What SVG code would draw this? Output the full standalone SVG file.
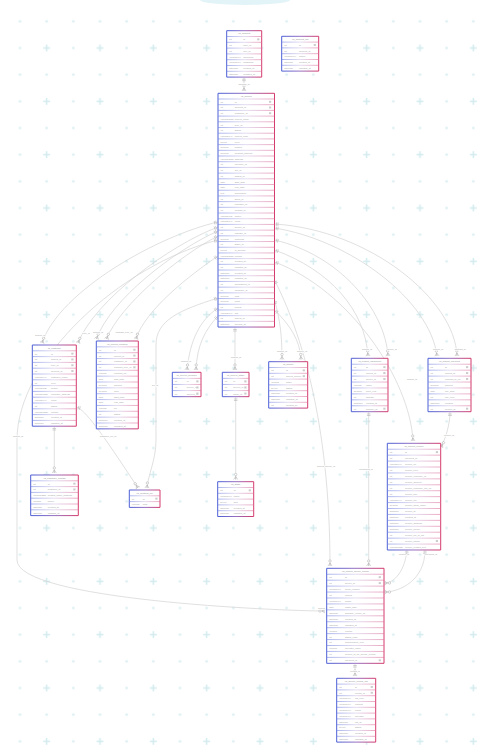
<svg xmlns="http://www.w3.org/2000/svg" width="490" height="754" viewBox="0 0 490 754">
<defs>
<linearGradient id="gb" x1="0" y1="0" x2="1" y2="0"><stop offset="0" stop-color="#4b5fd6"/><stop offset="0.5" stop-color="#946fc2"/><stop offset="1" stop-color="#d43a6b"/></linearGradient>
<linearGradient id="gs" x1="0" y1="0" x2="1" y2="0"><stop offset="0" stop-color="#7284e2"/><stop offset="0.5" stop-color="#d2c6e8"/><stop offset="1" stop-color="#e07098"/></linearGradient>
<pattern id="bg" x="33.333" y="34.667" width="53.333" height="53.333" patternUnits="userSpaceOnUse">
<path d="M13.33,9.83V16.83M9.83,13.33H16.83" stroke="#d3ebee" stroke-width="1.5"/>
<circle cx="40" cy="13.33" r="1.3" fill="#dbeff1"/><circle cx="13.33" cy="40" r="1.3" fill="#dbeff1"/><circle cx="40" cy="40" r="1.3" fill="#dbeff1"/>
</pattern>
<marker id="many" viewBox="-8 -3 9 6" refX="0" refY="0" markerWidth="9" markerHeight="6" orient="auto" markerUnits="userSpaceOnUse">
<path d="M-3,0L0,-2M-3,0L0,0M-3,0L0,2" stroke="#b5b5b5" stroke-width="0.6" fill="none"/>
<circle cx="-5" cy="0" r="1.2" fill="#fff" stroke="#b5b5b5" stroke-width="0.6"/>
</marker>
<marker id="one" viewBox="0 -3 6 6" refX="0" refY="0" markerWidth="6" markerHeight="6" orient="auto" markerUnits="userSpaceOnUse">
<path d="M2,-1.8V1.8M3.5,-1.8V1.8" stroke="#b5b5b5" stroke-width="0.6" fill="none"/>
</marker>
</defs>
<style>
.b{fill:#fff;stroke:url(#gb);stroke-width:1;vector-effect:non-scaling-stroke}
.s{fill:none;stroke:url(#gs);stroke-width:0.6;vector-effect:non-scaling-stroke}
text{font-family:"Liberation Sans",Arial,sans-serif;font-size:2.35px;fill:#a3a3a3}
.h{text-anchor:middle;fill:#8c8c8c}
.k{fill:#cbcbcb}
.cn path{fill:none;stroke:#d2d2d2;stroke-width:0.7;marker-start:url(#one);marker-end:url(#many)}
.lb{font-size:2.3px;fill:#a0a0a0;text-anchor:middle;stroke:#fff;stroke-width:1.2;paint-order:stroke}
</style>
<rect width="490" height="754" fill="#fff"/>
<rect width="490" height="754" fill="url(#bg)"/>
<ellipse cx="245" cy="0" rx="45" ry="5" fill="#e3f4f8"/>

<g class="cn" id="connectors">
<path d="M244,77.2V91"/>
<path d="M218,222C160,235 60,290 42,343"/>
<path d="M218,227C170,245 95,300 78,343"/>
<path d="M218,231C175,250 110,300 96.5,339"/>
<path d="M218,236C180,255 120,305 106.5,339"/>
<path d="M218,240C120,265 17,360 17,440L17,560C17,600 280,611 325,611"/>
<path d="M218,256C190,275 145,310 136,339"/>
<path d="M218,298C180,310 156,320 156,345L156,440C156,460 148,475 147,488"/>
<path d="M218,308C200,320 190,340 187,370"/>
<path d="M218,316C205,330 197,345 196,370"/>
<path d="M235,327.5V370"/>
<path d="M76.5,407C85,410 100,430 138,488"/>
<path d="M54.3,426.5V473"/>
<path d="M235.7,397V479.5"/>
<path d="M274.5,300C280,320 282,335 282,359.5"/>
<path d="M274.5,310C290,325 300,340 301,359.5"/>
<path d="M274.5,250C330,270 365,310 368,356"/>
<path d="M274.5,240C340,255 385,310 388,356"/>
<path d="M274.5,228C350,240 430,300 437,356"/>
<path d="M274.5,224C370,230 455,300 457,356"/>
<path d="M274.5,262C350,290 410,380 413,441"/>
<path d="M274.5,280C300,330 330,420 330,566"/>
<path d="M368.7,412V566"/>
<path d="M450,412C450,425 445,440 441,447"/>
<path d="M407,550C405,570 395,583 384.5,583"/>
<path d="M425,550C425,580 400,592 384.5,592"/>
<path d="M355,663.5V676"/>
</g>
<g id="labels">
<text class="lb" x="244" y="85">account_id</text>
<text class="lb" x="40" y="336">project_id</text>
<text class="lb" x="86" y="334">type_id</text>
<text class="lb" x="98" y="333">project_id</text>
<text class="lb" x="124" y="333">contract_type_id</text>
<text class="lb" x="18" y="437">project_id</text>
<text class="lb" x="155" y="386">file_id</text>
<text class="lb" x="186" y="362">project_id</text>
<text class="lb" x="236" y="358">project_id</text>
<text class="lb" x="108" y="437">customer_file_id</text>
<text class="lb" x="282" y="352">project_id</text>
<text class="lb" x="302" y="352">source_id</text>
<text class="lb" x="367" y="350">project_id</text>
<text class="lb" x="392" y="350">device_id</text>
<text class="lb" x="438" y="350">project_id</text>
<text class="lb" x="460" y="350">contract_id</text>
<text class="lb" x="412" y="380">project_id</text>
<text class="lb" x="326" y="467">project_device_id</text>
<text class="lb" x="366" y="470">equipment_id</text>
<text class="lb" x="449" y="436">invoice_id</text>
<text class="lb" x="404" y="555">invoice_id</text>
<text class="lb" x="431" y="555">payment_id</text>
<text class="lb" x="323" y="609">project_id</text>
<text class="lb" x="355" y="672">record_id</text>
</g>

<g id="t-account" transform="translate(226.7,30.7)">
<rect class="b" width="35" height="46.4"/>
<path class="s" d="M0,5.8h35M0,11.6h35M0,17.4h35M0,23.2h35M0,29h35M0,34.8h35M0,40.6h35"/>
<text class="h" x="17.5" y="3.8">vs_account</text>
<text x="2.5" y="9.6">int</text><text x="16.6" y="9.6">id</text><rect class="k" x="30.5" y="7.7" width="2.2" height="1.9"/>
<text x="2.5" y="15.4">int</text><text x="16.6" y="15.4">user_id</text>
<text x="2.5" y="21.2">int</text><text x="16.6" y="21.2">role_id</text>
<text x="2.5" y="27">varchar(64)</text><text x="16.6" y="27">username</text>
<text x="2.5" y="32.8">varchar(64)</text><text x="16.6" y="32.8">password</text>
<text x="2.5" y="38.6">datetime</text><text x="16.6" y="38.6">created_at</text>
<text x="2.5" y="44.4">datetime</text><text x="16.6" y="44.4">updated_at</text>
</g>

<g id="t-account-log" transform="translate(281.7,36.3)">
<rect class="b" width="37" height="34.8"/>
<path class="s" d="M0,5.8h37M0,11.6h37M0,17.4h37M0,23.2h37M0,29h37"/>
<text class="h" x="18.5" y="3.8">vs_account_log</text>
<text x="2.5" y="9.6">int</text><text x="17.3" y="9.6">id</text><rect class="k" x="32" y="7.7" width="2.2" height="1.9"/>
<text x="2.5" y="15.4">int</text><text x="17.3" y="15.4">account_id</text>
<text x="2.5" y="21.2">varchar(64)</text><text x="17.3" y="21.2">action</text>
<text x="2.5" y="27">datetime</text><text x="17.3" y="27">created_at</text>
<text x="2.5" y="32.8">datetime</text><text x="17.3" y="32.8">updated_at</text>
</g>

<g id="t-project" transform="translate(218,93.3) scale(1,0.983)">
<rect class="b" width="56.5" height="237.8"/>
<path class="s" d="M0,5.8h56.5M0,11.6h56.5M0,17.4h56.5M0,23.2h56.5M0,29h56.5M0,34.8h56.5M0,40.6h56.5M0,46.4h56.5M0,52.2h56.5M0,58h56.5M0,63.8h56.5M0,69.6h56.5M0,75.4h56.5M0,81.2h56.5M0,87h56.5M0,92.8h56.5M0,98.6h56.5M0,104.4h56.5M0,110.2h56.5M0,116h56.5M0,121.8h56.5M0,127.6h56.5M0,133.4h56.5M0,139.2h56.5M0,145h56.5M0,150.8h56.5M0,156.6h56.5M0,162.4h56.5M0,168.2h56.5M0,174h56.5M0,179.8h56.5M0,185.6h56.5M0,191.4h56.5M0,197.2h56.5M0,203h56.5M0,208.8h56.5M0,214.6h56.5M0,220.4h56.5M0,226.2h56.5M0,232h56.5"/>
<text class="h" x="28.25" y="3.8">vs_project</text>
<text x="2.5" y="9.6">int</text><text x="16.7" y="9.6">id</text><rect class="k" x="51" y="7.7" width="2.2" height="1.9"/>
<text x="2.5" y="15.4">int</text><text x="16.7" y="15.4">account_id</text><rect class="k" x="51" y="13.5" width="2.2" height="1.9"/>
<text x="2.5" y="21.2">int</text><text x="16.7" y="21.2">customer_id</text><rect class="k" x="51" y="19.3" width="2.2" height="1.9"/>
<text x="2.5" y="27">varchar(255)</text><text x="16.7" y="27">project_name</text>
<text x="2.5" y="32.8">int</text><text x="16.7" y="32.8">type_id</text>
<text x="2.5" y="38.6">int</text><text x="16.7" y="38.6">status</text>
<text x="2.5" y="44.4">varchar(64)</text><text x="16.7" y="44.4">project_code</text>
<text x="2.5" y="50.2">tinyint</text><text x="16.7" y="50.2">level</text>
<text x="2.5" y="56">decimal</text><text x="16.7" y="56">budget</text>
<text x="2.5" y="61.8">decimal</text><text x="16.7" y="61.8">contract_amount</text>
<text x="2.5" y="67.6">varchar(255)</text><text x="16.7" y="67.6">address</text>
<text x="2.5" y="73.4">int</text><text x="16.7" y="73.4">province_id</text>
<text x="2.5" y="79.2">int</text><text x="16.7" y="79.2">city_id</text>
<text x="2.5" y="85">int</text><text x="16.7" y="85">district_id</text>
<text x="2.5" y="90.8">date</text><text x="16.7" y="90.8">start_date</text>
<text x="2.5" y="96.6">date</text><text x="16.7" y="96.6">end_date</text>
<text x="2.5" y="102.4">text</text><text x="16.7" y="102.4">description</text>
<text x="2.5" y="108.2">int</text><text x="16.7" y="108.2">sales_id</text>
<text x="2.5" y="114">int</text><text x="16.7" y="114">manager_id</text>
<text x="2.5" y="119.8">int</text><text x="16.7" y="119.8">contact_id</text>
<text x="2.5" y="125.6">varchar(32)</text><text x="16.7" y="125.6">phone</text>
<text x="2.5" y="131.4">varchar(64)</text><text x="16.7" y="131.4">email</text>
<text x="2.5" y="137.2">int</text><text x="16.7" y="137.2">source_id</text>
<text x="2.5" y="143">int</text><text x="16.7" y="143">industry_id</text>
<text x="2.5" y="148.8">decimal</text><text x="16.7" y="148.8">progress</text>
<text x="2.5" y="154.6">int</text><text x="16.7" y="154.6">stage_id</text>
<text x="2.5" y="160.4">tinyint</text><text x="16.7" y="160.4">is_deleted</text>
<text x="2.5" y="166.2">varchar(255)</text><text x="16.7" y="166.2">remark</text>
<text x="2.5" y="172">int</text><text x="16.7" y="172">created_by</text>
<text x="2.5" y="177.8">int</text><text x="16.7" y="177.8">updated_by</text>
<text x="2.5" y="183.6">datetime</text><text x="16.7" y="183.6">created_at</text>
<text x="2.5" y="189.4">datetime</text><text x="16.7" y="189.4">updated_at</text>
<text x="2.5" y="195.2">int</text><text x="16.7" y="195.2">department_id</text>
<text x="2.5" y="201">int</text><text x="16.7" y="201">company_id</text>
<text x="2.5" y="206.8">decimal</text><text x="16.7" y="206.8">cost</text>
<text x="2.5" y="212.6">decimal</text><text x="16.7" y="212.6">profit</text>
<text x="2.5" y="218.4">int</text><text x="16.7" y="218.4">priority</text>
<text x="2.5" y="224.2">varchar(64)</text><text x="16.7" y="224.2">tag</text>
<text x="2.5" y="230">int</text><text x="16.7" y="230">parent_id</text>
<text x="2.5" y="235.8">datetime</text><text x="16.7" y="235.8">deleted_at</text>
</g>

<g id="t-customer" transform="translate(32.3,345)">
<rect class="b" width="44" height="81.2"/>
<path class="s" d="M0,5.8h44M0,11.6h44M0,17.4h44M0,23.2h44M0,29h44M0,34.8h44M0,40.6h44M0,46.4h44M0,52.2h44M0,58h44M0,63.8h44M0,69.6h44M0,75.4h44"/>
<text class="h" x="22" y="3.8">vs_customer</text>
<text x="2.5" y="9.6">int</text><text x="18.7" y="9.6">id</text><rect class="k" x="39" y="7.7" width="2.2" height="1.9"/>
<text x="2.5" y="15.4">int</text><text x="18.7" y="15.4">project_id</text><rect class="k" x="39" y="13.5" width="2.2" height="1.9"/>
<text x="2.5" y="21.2">int</text><text x="18.7" y="21.2">type_id</text><rect class="k" x="39" y="19.3" width="2.2" height="1.9"/>
<text x="2.5" y="27">int</text><text x="18.7" y="27">account_id</text><rect class="k" x="39" y="25.1" width="2.2" height="1.9"/>
<text x="2.5" y="32.8">varchar(64)</text><text x="18.7" y="32.8">customer_name</text>
<text x="2.5" y="38.6">int</text><text x="18.7" y="38.6">level</text>
<text x="2.5" y="44.4">varchar(32)</text><text x="18.7" y="44.4">mobile</text>
<text x="2.5" y="50.2">varchar(255)</text><text x="18.7" y="50.2">company_address</text>
<text x="2.5" y="56">varchar(64)</text><text x="18.7" y="56">email</text>
<text x="2.5" y="61.8">int</text><text x="18.7" y="61.8">status</text>
<text x="2.5" y="67.6">varchar(255)</text><text x="18.7" y="67.6">remark</text>
<text x="2.5" y="73.4">datetime</text><text x="18.7" y="73.4">created_at</text>
<text x="2.5" y="79.2">datetime</text><text x="18.7" y="79.2">updated_at</text>
</g>

<g id="t-project-contract" transform="translate(96.3,341) scale(1,1.01)">
<rect class="b" width="42" height="87"/>
<path class="s" d="M0,5.8h42M0,11.6h42M0,17.4h42M0,23.2h42M0,29h42M0,34.8h42M0,40.6h42M0,46.4h42M0,52.2h42M0,58h42M0,63.8h42M0,69.6h42M0,75.4h42M0,81.2h42"/>
<text class="h" x="21" y="3.8">vs_project_contract</text>
<text x="2.5" y="9.6">int</text><text x="17.7" y="9.6">id</text><rect class="k" x="37" y="7.7" width="2.2" height="1.9"/>
<text x="2.5" y="15.4">int</text><text x="17.7" y="15.4">project_id</text><rect class="k" x="37" y="13.5" width="2.2" height="1.9"/>
<text x="2.5" y="21.2">int</text><text x="17.7" y="21.2">customer_id</text><rect class="k" x="37" y="19.3" width="2.2" height="1.9"/>
<text x="2.5" y="27">int</text><text x="17.7" y="27">contract_type_id</text><rect class="k" x="37" y="25.1" width="2.2" height="1.9"/>
<text x="2.5" y="32.8">varchar</text><text x="17.7" y="32.8">contract_no</text>
<text x="2.5" y="38.6">date</text><text x="17.7" y="38.6">sign_date</text>
<text x="2.5" y="44.4">decimal</text><text x="17.7" y="44.4">amount</text>
<text x="2.5" y="50.2">decimal</text><text x="17.7" y="50.2">paid</text>
<text x="2.5" y="56">date</text><text x="17.7" y="56">start_date</text>
<text x="2.5" y="61.8">date</text><text x="17.7" y="61.8">end_date</text>
<text x="2.5" y="67.6">varchar</text><text x="17.7" y="67.6">file</text>
<text x="2.5" y="73.4">int</text><text x="17.7" y="73.4">status</text>
<text x="2.5" y="79.2">datetime</text><text x="17.7" y="79.2">created_at</text>
<text x="2.5" y="85">datetime</text><text x="17.7" y="85">updated_at</text>
</g>

<g id="t-contract-file" transform="translate(129.3,490)">
<rect class="b" width="30.7" height="17.4"/>
<path class="s" d="M0,5.8h30.7M0,11.6h30.7"/>
<text class="h" x="15.35" y="3.8">vs_contract_file</text>
<text x="2.5" y="9.6">int</text><text x="13.5" y="9.6">id</text><rect class="k" x="26" y="7.7" width="2.2" height="1.9"/>
<text x="2.5" y="15.4">varchar</text><text x="13.5" y="15.4">path</text>
</g>

<g id="t-customer-contact" transform="translate(30.7,475)">
<rect class="b" width="47.6" height="40.6"/>
<path class="s" d="M0,5.8h47.6M0,11.6h47.6M0,17.4h47.6M0,23.2h47.6M0,29h47.6M0,34.8h47.6"/>
<text class="h" x="23.8" y="3.8">vs_customer_contact</text>
<text x="2.5" y="9.6">int</text><text x="17" y="9.6">id</text><rect class="k" x="42.6" y="7.7" width="2.2" height="1.9"/>
<text x="2.5" y="15.4">int</text><text x="17" y="15.4">customer_id</text><rect class="k" x="42.6" y="13.5" width="2.2" height="1.9"/>
<text x="2.5" y="21.2">varchar(255)</text><text x="17" y="21.2">contact_name_address</text>
<text x="2.5" y="27">varchar</text><text x="17" y="27">phone</text>
<text x="2.5" y="32.8">datetime</text><text x="17" y="32.8">created_at</text>
<text x="2.5" y="38.6">datetime</text><text x="17" y="38.6">updated_at</text>
</g>

<g id="t-project-member" transform="translate(172.3,372.3) scale(1,1.05)">
<rect class="b" width="28.7" height="23.2"/>
<path class="s" d="M0,5.8h28.7M0,11.6h28.7M0,17.4h28.7"/>
<text class="h" x="14.35" y="3.8">vs_project_member</text>
<text x="2.5" y="9.6">int</text><text x="14.4" y="9.6">id</text><rect class="k" x="24" y="7.7" width="2.2" height="1.9"/>
<text x="2.5" y="15.4">int</text><text x="14.4" y="15.4">project_id</text><rect class="k" x="24" y="13.5" width="2.2" height="1.9"/>
<text x="2.5" y="21.2">int</text><text x="14.4" y="21.2">account_id</text><rect class="k" x="24" y="19.3" width="2.2" height="1.9"/>
</g>

<g id="t-project-stage" transform="translate(222.3,372.3) scale(1,1.05)">
<rect class="b" width="26.7" height="23.2"/>
<path class="s" d="M0,5.8h26.7M0,11.6h26.7M0,17.4h26.7"/>
<text class="h" x="13.35" y="3.8">vs_project_stage</text>
<text x="2.5" y="9.6">int</text><text x="11" y="9.6">id</text><rect class="k" x="22" y="7.7" width="2.2" height="1.9"/>
<text x="2.5" y="15.4">int</text><text x="11" y="15.4">project_id</text><rect class="k" x="22" y="13.5" width="2.2" height="1.9"/>
<text x="2.5" y="21.2">int</text><text x="11" y="21.2">stage_id</text><rect class="k" x="22" y="19.3" width="2.2" height="1.9"/>
</g>

<g id="t-stage" transform="translate(217.7,481.7)">
<rect class="b" width="36" height="34.8"/>
<path class="s" d="M0,5.8h36M0,11.6h36M0,17.4h36M0,23.2h36M0,29h36"/>
<text class="h" x="18" y="3.8">vs_stage</text>
<text x="2.5" y="9.6">int</text><text x="16" y="9.6">id</text><rect class="k" x="31" y="7.7" width="2.2" height="1.9"/>
<text x="2.5" y="15.4">varchar(64)</text><text x="16" y="15.4">name</text>
<text x="2.5" y="21.2">tinyint</text><text x="16" y="21.2">sort</text>
<text x="2.5" y="27">datetime</text><text x="16" y="27">created_at</text>
<text x="2.5" y="32.8">datetime</text><text x="16" y="32.8">updated_at</text>
</g>

<g id="t-source" transform="translate(268.7,361.7)">
<rect class="b" width="39" height="46.4"/>
<path class="s" d="M0,5.8h39M0,11.6h39M0,17.4h39M0,23.2h39M0,29h39M0,34.8h39M0,40.6h39"/>
<text class="h" x="19.5" y="3.8">vs_source</text>
<text x="2.5" y="9.6">int</text><text x="17.3" y="9.6">id</text><rect class="k" x="34" y="7.7" width="2.2" height="1.9"/>
<text x="2.5" y="15.4">int</text><text x="17.3" y="15.4">project_source</text><rect class="k" x="34" y="13.5" width="2.2" height="1.9"/>
<text x="2.5" y="21.2">varchar</text><text x="17.3" y="21.2">name</text>
<text x="2.5" y="27">tinyint</text><text x="17.3" y="27">status</text>
<text x="2.5" y="32.8">datetime</text><text x="17.3" y="32.8">created_at</text>
<text x="2.5" y="38.6">datetime</text><text x="17.3" y="38.6">updated_at</text>
<text x="2.5" y="44.4">int</text><text x="17.3" y="44.4">created_by</text>
</g>

<g id="t-project-equipment" transform="translate(351.3,358.3) scale(1,1.023)">
<rect class="b" width="36.7" height="52.2"/>
<path class="s" d="M0,5.8h36.7M0,11.6h36.7M0,17.4h36.7M0,23.2h36.7M0,29h36.7M0,34.8h36.7M0,40.6h36.7M0,46.4h36.7"/>
<text class="h" x="18.35" y="3.8">vs_project_equipment</text>
<text x="2.5" y="9.6">int</text><text x="14.7" y="9.6">id</text><rect class="k" x="32" y="7.7" width="2.2" height="1.9"/>
<text x="2.5" y="15.4">int</text><text x="14.7" y="15.4">project_id</text><rect class="k" x="32" y="13.5" width="2.2" height="1.9"/>
<text x="2.5" y="21.2">int</text><text x="14.7" y="21.2">device_id</text><rect class="k" x="32" y="19.3" width="2.2" height="1.9"/>
<text x="2.5" y="27">varchar</text><text x="14.7" y="27">name</text>
<text x="2.5" y="32.8">decimal</text><text x="14.7" y="32.8">price_unit</text>
<text x="2.5" y="38.6">int</text><text x="14.7" y="38.6">quantity</text>
<text x="2.5" y="44.4">datetime</text><text x="14.7" y="44.4">created_at</text>
<text x="2.5" y="50.2">int</text><text x="14.7" y="50.2">supplier_id</text><rect class="k" x="32" y="48.3" width="2.2" height="1.9"/>
</g>

<g id="t-project-payment" transform="translate(428,358.3) scale(1,1.023)">
<rect class="b" width="43" height="52.2"/>
<path class="s" d="M0,5.8h43M0,11.6h43M0,17.4h43M0,23.2h43M0,29h43M0,34.8h43M0,40.6h43M0,46.4h43"/>
<text class="h" x="21.5" y="3.8">vs_project_payment</text>
<text x="2.5" y="9.6">int</text><text x="17" y="9.6">id</text><rect class="k" x="38" y="7.7" width="2.2" height="1.9"/>
<text x="2.5" y="15.4">int</text><text x="17" y="15.4">project_id</text><rect class="k" x="38" y="13.5" width="2.2" height="1.9"/>
<text x="2.5" y="21.2">int</text><text x="17" y="21.2">contract_id_ref</text><rect class="k" x="38" y="19.3" width="2.2" height="1.9"/>
<text x="2.5" y="27">decimal</text><text x="17" y="27">amount</text>
<text x="2.5" y="32.8">date</text><text x="17" y="32.8">pay_date</text>
<text x="2.5" y="38.6">int</text><text x="17" y="38.6">pay_type</text>
<text x="2.5" y="44.4">datetime</text><text x="17" y="44.4">created</text>
<text x="2.5" y="50.2">int</text><text x="17" y="50.2">invoice_id</text><rect class="k" x="38" y="48.3" width="2.2" height="1.9"/>
</g>

<g id="t-invoice" transform="translate(387.3,443.3) scale(1,1.022)">
<rect class="b" width="53.4" height="104.4"/>
<path class="s" d="M0,5.8h53.4M0,11.6h53.4M0,17.4h53.4M0,23.2h53.4M0,29h53.4M0,34.8h53.4M0,40.6h53.4M0,46.4h53.4M0,52.2h53.4M0,58h53.4M0,63.8h53.4M0,69.6h53.4M0,75.4h53.4M0,81.2h53.4M0,87h53.4M0,92.8h53.4M0,98.6h53.4"/>
<text class="h" x="26.7" y="3.8">vs_project_invoice</text>
<text x="2.5" y="9.6">int</text><text x="17.7" y="9.6">id</text><rect class="k" x="48.5" y="7.7" width="2.2" height="1.9"/>
<text x="2.5" y="15.4">int</text><text x="17.7" y="15.4">payment_id</text>
<text x="2.5" y="21.2">varchar(64)</text><text x="17.7" y="21.2">invoice_no</text>
<text x="2.5" y="27">int</text><text x="17.7" y="27">invoice_type</text>
<text x="2.5" y="32.8">int</text><text x="17.7" y="32.8">invoice_company_id</text>
<text x="2.5" y="38.6">int</text><text x="17.7" y="38.6">invoice_amount</text>
<text x="2.5" y="44.4">int</text><text x="17.7" y="44.4">invoice_company_tax_no</text>
<text x="2.5" y="50.2">int</text><text x="17.7" y="50.2">invoice_title</text>
<text x="2.5" y="56">varchar(64)</text><text x="17.7" y="56">invoice_tax</text>
<text x="2.5" y="61.8">decimal</text><text x="17.7" y="61.8">invoice_bank_name</text>
<text x="2.5" y="67.6">datetime</text><text x="17.7" y="67.6">invoice_at</text>
<text x="2.5" y="73.4">datetime</text><text x="17.7" y="73.4">created_at</text>
<text x="2.5" y="79.2">datetime</text><text x="17.7" y="79.2">invoice_address</text>
<text x="2.5" y="85">datetime</text><text x="17.7" y="85">invoice_phone</text>
<text x="2.5" y="90.8">int</text><text x="17.7" y="90.8">invoice_file_id_list</text>
<text x="2.5" y="96.6">int</text><text x="17.7" y="96.6">invoice_status</text><rect class="k" x="48.5" y="94.7" width="2.2" height="1.9"/>
<text x="2.5" y="102.4">varchar(255)</text><text x="17.7" y="102.4">invoice_remark_text</text>
</g>

<g id="t-device-record" transform="translate(326.7,568.3) scale(1,1.024)">
<rect class="b" width="57.3" height="92.8"/>
<path class="s" d="M0,5.8h57.3M0,11.6h57.3M0,17.4h57.3M0,23.2h57.3M0,29h57.3M0,34.8h57.3M0,40.6h57.3M0,46.4h57.3M0,52.2h57.3M0,58h57.3M0,63.8h57.3M0,69.6h57.3M0,75.4h57.3M0,81.2h57.3M0,87h57.3"/>
<text class="h" x="28.65" y="3.8">vs_project_device_record</text>
<text x="2.5" y="9.6">int</text><text x="18.3" y="9.6">id</text><rect class="k" x="52" y="7.7" width="2.2" height="1.9"/>
<text x="2.5" y="15.4">int</text><text x="18.3" y="15.4">device_id</text><rect class="k" x="52" y="13.5" width="2.2" height="1.9"/>
<text x="2.5" y="21.2">varchar(64)</text><text x="18.3" y="21.2">serial_number</text>
<text x="2.5" y="27">int</text><text x="18.3" y="27">project</text>
<text x="2.5" y="32.8">varchar(64)</text><text x="18.3" y="32.8">model</text>
<text x="2.5" y="38.6">date</text><text x="18.3" y="38.6">install_date</text>
<text x="2.5" y="44.4">datetime</text><text x="18.3" y="44.4">warranty_expire_at</text>
<text x="2.5" y="50.2">datetime</text><text x="18.3" y="50.2">created_at</text>
<text x="2.5" y="56">datetime</text><text x="18.3" y="56">updated_at</text>
<text x="2.5" y="61.8">varchar</text><text x="18.3" y="61.8">remark</text>
<text x="2.5" y="67.6">int</text><text x="18.3" y="67.6">status_code</text>
<text x="2.5" y="73.4">int</text><text x="18.3" y="73.4">maintenance_type</text>
<text x="2.5" y="79.2">varchar</text><text x="18.3" y="79.2">operator_name</text>
<text x="2.5" y="85">int</text><text x="18.3" y="85">invoice_id_for_device_record</text>
<text x="2.5" y="90.8">int</text><text x="18.3" y="90.8">payment_id</text><rect class="k" x="52" y="88.9" width="2.2" height="1.9"/>
</g>

<g id="t-device-log" transform="translate(336.7,678.3)">
<rect class="b" width="39" height="63.8"/>
<path class="s" d="M0,5.8h39M0,11.6h39M0,17.4h39M0,23.2h39M0,29h39M0,34.8h39M0,40.6h39M0,46.4h39M0,52.2h39M0,58h39"/>
<text class="h" x="19.5" y="3.8">vs_device_record_log</text>
<text x="2.5" y="9.6">int</text><text x="18.3" y="9.6">id</text><rect class="k" x="34" y="7.7" width="2.2" height="1.9"/>
<text x="2.5" y="15.4">int</text><text x="18.3" y="15.4">record_id</text><rect class="k" x="34" y="13.5" width="2.2" height="1.9"/>
<text x="2.5" y="21.2">varchar(64)</text><text x="18.3" y="21.2">log_type</text>
<text x="2.5" y="27">varchar(64)</text><text x="18.3" y="27">content</text>
<text x="2.5" y="32.8">varchar(64)</text><text x="18.3" y="32.8">result</text>
<text x="2.5" y="38.6">varchar(64)</text><text x="18.3" y="38.6">operator</text>
<text x="2.5" y="44.4">datetime</text><text x="18.3" y="44.4">log_at</text>
<text x="2.5" y="50.2">tinyint</text><text x="18.3" y="50.2">status</text>
<text x="2.5" y="56">datetime</text><text x="18.3" y="56">created_at</text>
<text x="2.5" y="61.8">datetime</text><text x="18.3" y="61.8">updated_at</text>
</g>
</svg>
